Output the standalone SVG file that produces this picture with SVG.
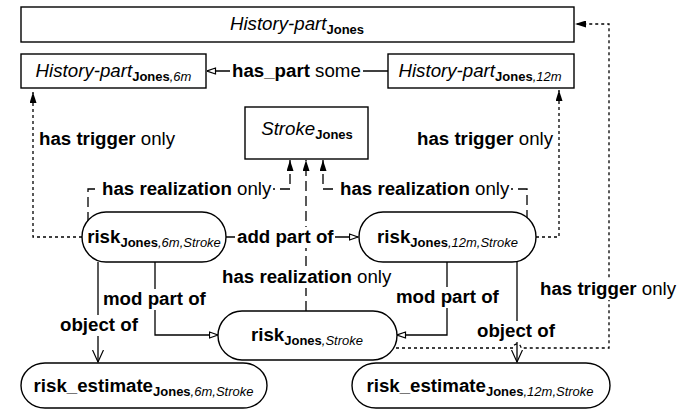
<svg xmlns="http://www.w3.org/2000/svg" width="694" height="409" viewBox="0 0 694 409">
<style>
text{font-family:"Liberation Sans",Arial,sans-serif;font-size:18.7px;fill:#000}
.b{font-weight:bold}
.i{font-style:italic}
.sb{font-size:13px;font-weight:bold}
.si{font-size:13px;font-style:italic;font-weight:normal}
.box{fill:#fff;stroke:#000;stroke-width:1.4}
.ln{fill:none;stroke:#000;stroke-width:1.3}
.dt{stroke-dasharray:3,3}
.dl{stroke-dasharray:10,5}
.bg{fill:#fff}
</style>
<defs>
<marker id="fa" viewBox="0 0 11 7" refX="11" refY="3.5" markerWidth="11" markerHeight="7" markerUnits="userSpaceOnUse" orient="auto"><path d="M0,0 L11,3.5 L0,7 z" fill="#000"/></marker>
<marker id="ot" viewBox="0 0 10 8" refX="9.5" refY="4" markerWidth="10" markerHeight="8" markerUnits="userSpaceOnUse" orient="auto"><path d="M1,1 L9.5,4 L1,7 z" fill="#fff" stroke="#000" stroke-width="1.2"/></marker>
<marker id="ov" viewBox="0 0 13 12" refX="12.5" refY="6" markerWidth="13" markerHeight="12" markerUnits="userSpaceOnUse" orient="auto"><path d="M0.5,0.5 L12.5,6 L0.5,11.5" fill="none" stroke="#000" stroke-width="1.2"/></marker>
</defs>
<g id="connectors">
<path class="ln" d="M388,71 H207" marker-end="url(#ot)"/>
<rect class="bg" x="230" y="61" width="133" height="21"/>
<text x="232" y="77"><tspan class="b">has_part</tspan> some</text>
<path class="ln dt" d="M82,237 H33 V92" marker-end="url(#fa)"/>
<text x="39" y="145"><tspan class="b">has trigger</tspan> only</text>
<path class="ln dt" d="M536,237 H559 V90" marker-end="url(#fa)"/>
<text x="417" y="145"><tspan class="b">has trigger</tspan> only</text>
<path class="ln dt" d="M390,348 H513 a4,4 0 0 1 8,0 H609 V24 H575" marker-end="url(#fa)"/>
<rect class="bg" x="538" y="279" width="141" height="21"/>
<text x="540" y="295"><tspan class="b">has trigger</tspan> only</text>
<path class="ln dl" d="M88,222 V189 H290 V160" marker-end="url(#fa)"/>
<rect class="bg" x="100" y="179" width="173" height="21"/>
<text x="102" y="195"><tspan class="b">has realization</tspan> only</text>
<path class="ln dl" d="M527,220 V189 H323 V160" marker-end="url(#fa)"/>
<rect class="bg" x="338" y="179" width="173" height="21"/>
<text x="340" y="195"><tspan class="b">has realization</tspan> only</text>
<path class="ln dl" d="M306,311 V160" marker-end="url(#fa)"/>
<rect class="bg" x="220" y="267" width="173" height="21"/>
<text x="222" y="283"><tspan class="b">has realization</tspan> only</text>
<path class="ln" d="M226,237 H358" marker-end="url(#ot)"/>
<rect class="bg" x="235" y="227" width="100" height="21"/>
<text x="237" y="243" class="b">add part of</text>
<path class="ln" d="M98,262 V362" marker-end="url(#ov)"/>
<rect class="bg" x="58" y="315" width="82" height="21"/>
<text x="60" y="331" class="b">object of</text>
<path class="ln" d="M155,262 V335 H218" marker-end="url(#ot)"/>
<rect class="bg" x="101" y="289" width="107" height="21"/>
<text x="103" y="305" class="b">mod part of</text>
<path class="ln" d="M447,262 V335 H397" marker-end="url(#ot)"/>
<rect class="bg" x="394" y="287" width="107" height="21"/>
<text x="396" y="303" class="b">mod part of</text>
<path class="ln" d="M517,262 V362" marker-end="url(#ov)"/>
<rect class="bg" x="475" y="321" width="82" height="21"/>
<text x="477" y="337" class="b">object of</text>
</g>
<g id="history-part-jones">
<rect class="box" x="21" y="7" width="553" height="35"/>
<text x="297" y="30" text-anchor="middle"><tspan class="i">History-part</tspan><tspan class="sb" dy="4">Jones</tspan></text>
</g>
<g id="history-part-jones-6m">
<rect class="box" x="21" y="54" width="185" height="34"/>
<text x="113.5" y="77" text-anchor="middle"><tspan class="i">History-part</tspan><tspan class="sb" dy="4">Jones</tspan><tspan class="si">,6m</tspan></text>
</g>
<g id="history-part-jones-12m">
<rect class="box" x="388" y="54" width="186" height="34"/>
<text x="480" y="77" text-anchor="middle"><tspan class="i">History-part</tspan><tspan class="sb" dy="4">Jones</tspan><tspan class="si">,12m</tspan></text>
</g>
<g id="stroke-jones">
<rect class="box" x="245" y="107" width="123" height="52"/>
<text x="307" y="135" text-anchor="middle"><tspan class="i">Stroke</tspan><tspan class="sb" dy="4">Jones</tspan></text>
</g>
<g id="risk-jones-6m-stroke">
<rect class="box" x="82" y="212" width="144" height="50" rx="24" ry="25"/>
<text x="154" y="243" text-anchor="middle"><tspan class="b">risk</tspan><tspan class="sb" dy="4">Jones</tspan><tspan class="si">,6m,Stroke</tspan></text>
</g>
<g id="risk-jones-12m-stroke">
<rect class="box" x="359" y="212" width="177" height="50" rx="24" ry="25"/>
<text x="447.5" y="243" text-anchor="middle"><tspan class="b">risk</tspan><tspan class="sb" dy="4">Jones</tspan><tspan class="si">,12m,Stroke</tspan></text>
</g>
<g id="risk-jones-stroke">
<rect class="box" x="218" y="311" width="179" height="49" rx="24" ry="24.5"/>
<text x="307" y="341" text-anchor="middle"><tspan class="b">risk</tspan><tspan class="sb" dy="4">Jones</tspan><tspan class="si">,Stroke</tspan></text>
</g>
<g id="risk-estimate-jones-6m-stroke">
<rect class="box" x="21" y="363" width="246" height="45" rx="24" ry="22.5"/>
<text x="143.5" y="392" text-anchor="middle"><tspan class="b">risk_estimate</tspan><tspan class="sb" dy="4">Jones</tspan><tspan class="si">,6m,Stroke</tspan></text>
</g>
<g id="risk-estimate-jones-12m-stroke">
<rect class="box" x="352" y="363" width="258" height="45" rx="24" ry="22.5"/>
<text x="480" y="392" text-anchor="middle"><tspan class="b">risk_estimate</tspan><tspan class="sb" dy="4">Jones</tspan><tspan class="si">,12m,Stroke</tspan></text>
</g>
</svg>
